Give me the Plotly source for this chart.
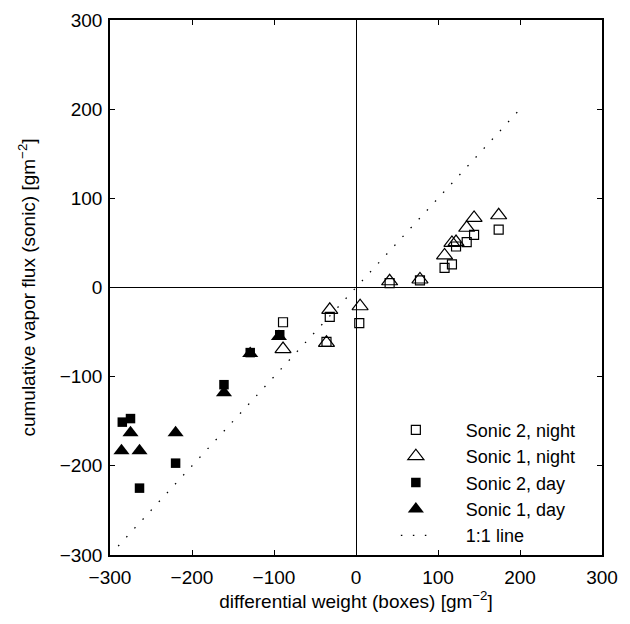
import plotly.graph_objects as go

# Sonic 2, night (open squares)
s2_night_x = [-89, -32, 4, -36, 41, 78, 108, 117, 122, 135, 144, 174]
s2_night_y = [-39, -33, -40, -61, 5, 8, 22, 26, 46, 51, 59, 65]
# Sonic 1, night (open triangles)
s1_night_x = [-89, -32, 5, -36, 41, 78, 108, 117, 122, 135, 144, 174]
s1_night_y = [-69, -25, -21, -62, 7, 9, 36, 50, 51, 67, 78, 81]
# Sonic 2, day (filled squares)
s2_day_x = [-285, -275, -264, -220, -161, -129, -93]
s2_day_y = [-151, -147, -225, -197, -109, -73, -53]
# Sonic 1, day (filled triangles)
s1_day_x = [-286, -275, -264, -220, -161, -129, -94]
s1_day_y = [-183, -163, -183, -163, -118, -74, -55]
# 1:1 line
line_x = [-290, 200]
line_y = [-290, 200]

FONT = "Liberation Sans, Arial, Helvetica, sans-serif"
pad = "      "

fig = go.Figure()
fig.add_trace(go.Scatter(x=line_x, y=line_y, mode="lines", name=pad + "1:1 line",
                         line=dict(color="black", width=1.3, dash="1.5px,10.5px"),
                         legendrank=5))
fig.add_trace(go.Scatter(x=s2_night_x, y=s2_night_y, mode="markers", name=pad + "Sonic 2, night",
                         marker=dict(symbol="square-open", size=9, color="black",
                                     line=dict(width=1.2, color="black")),
                         legendrank=1))
fig.add_trace(go.Scatter(x=s1_night_x, y=s1_night_y, mode="markers", name=pad + "Sonic 1, night",
                         marker=dict(symbol="triangle-up-open", size=14, color="black",
                                     line=dict(width=1.2, color="black")),
                         legendrank=2))
fig.add_trace(go.Scatter(x=s2_day_x, y=s2_day_y, mode="markers", name=pad + "Sonic 2, day",
                         marker=dict(symbol="square", size=9.5, color="black",
                                     line=dict(width=0)),
                         legendrank=3))
fig.add_trace(go.Scatter(x=s1_day_x, y=s1_day_y, mode="markers", name=pad + "Sonic 1, day",
                         marker=dict(symbol="triangle-up", size=14, color="black",
                                     line=dict(width=0)),
                         legendrank=4))

axis_common = dict(
    range=[-300, 300], tickvals=[-300, -200, -100, 0, 100, 200, 300],
    ticktext=["\u2212300", "\u2212200", "\u2212100", "0", "100", "200", "300"],
    showgrid=False, zeroline=True, zerolinecolor="black", zerolinewidth=1,
    showline=True, linecolor="black", linewidth=1.5, mirror="ticks",
    ticks="inside", ticklen=5, tickcolor="black", tickwidth=1,
    tickfont=dict(family=FONT, size=19, color="black"),
    automargin=False,
)

fig.update_layout(
    width=622, height=616,
    margin=dict(l=102, r=28, t=12, b=69),
    paper_bgcolor="white", plot_bgcolor="white",
    font=dict(family=FONT, size=19, color="black"),
    xaxis=dict(**axis_common, ticklabelstandoff=4,
               title=dict(text="differential weight (boxes) [gm<sup>\u22122</sup>]",
                          font=dict(family=FONT, size=19), standoff=2)),
    yaxis=dict(**axis_common, ticklabelstandoff=2,
               title=dict(text="cumulative vapor flux (sonic) [gm<sup>\u22122</sup>]",
                          font=dict(family=FONT, size=19), standoff=19)),
    showlegend=True,
    legend=dict(x=0.581, y=0.268, xanchor="left", yanchor="top",
                bgcolor="rgba(0,0,0,0)", borderwidth=0,
                font=dict(family=FONT, size=18, color="black"),
                tracegroupgap=0, itemsizing="trace"),
)

fig.write_html("out.html")
